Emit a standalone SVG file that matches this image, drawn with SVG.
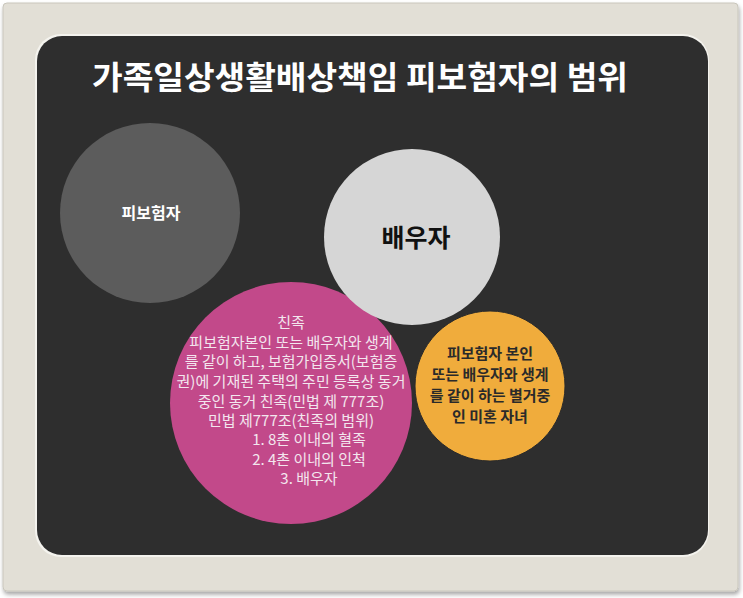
<svg xmlns="http://www.w3.org/2000/svg" width="743" height="598" viewBox="0 0 743 598">
<style>
.k{font-family:"Noto Sans CJK KR","Noto Sans",sans-serif;text-anchor:middle}
.pk{font-size:15px;fill:#f3e6ee}
.or{font-size:15px;font-weight:bold;fill:#2a2a2a}
</style>
<defs>
<filter id="sh" x="-5%" y="-5%" width="110%" height="110%"><feDropShadow dx="1" dy="3" stdDeviation="2" flood-color="#000" flood-opacity="0.35"/></filter>
</defs>
<rect width="743" height="598" fill="#ffffff"/>
<g id="frame">
<rect x="3" y="3" width="735" height="588" rx="4" fill="#e2dfd6" stroke="#c9c6bc" stroke-width="1" filter="url(#sh)"/>
<rect x="35" y="34" width="674" height="523" rx="26" fill="#f4f3ee"/>
<rect x="37" y="36" width="671" height="519" rx="25" fill="#2e2e2e"/>
</g>
<g id="title"><text class="k" x="360" y="89" font-size="32" font-weight="bold" fill="#ffffff" textLength="536" lengthAdjust="spacingAndGlyphs">가족일상생활배상책임 피보험자의 범위</text></g>
<g id="node-insured">
<circle cx="150" cy="213" r="90" fill="#5c5c5c"/>
<text class="k" x="151" y="219" font-size="16" font-weight="bold" fill="#ffffff">피보험자</text>
</g>
<g id="node-relatives">
<circle cx="291" cy="403" r="121" fill="#c2498a"/>
<text class="k pk" x="291" y="328">친족</text>
<text class="k pk" x="291" y="348">피보험자본인 또는 배우자와 생계</text>
<text class="k pk" x="291" y="367">를 같이 하고, 보험가입증서(보험증</text>
<text class="k pk" x="291" y="387">권)에 기재된 주택의 주민 등록상 동거</text>
<text class="k pk" x="291" y="407">중인 동거 친족(민법 제 777조)</text>
<text class="k pk" x="291" y="426">민법 제777조(친족의 범위)</text>
<text class="k pk" x="309" y="445">1. 8촌 이내의 혈족</text>
<text class="k pk" x="309" y="465">2. 4촌 이내의 인척</text>
<text class="k pk" x="309" y="484">3. 배우자</text>
</g>
<g id="node-spouse">
<circle cx="412" cy="237" r="88" fill="#d6d6d6"/>
<text class="k" x="416" y="247" font-size="25" font-weight="bold" fill="#111111">배우자</text>
</g>
<g id="node-child">
<circle cx="490" cy="386" r="75" fill="#f0ac3c" stroke="#2a2a2a" stroke-width="1"/>
<text class="k or" x="490" y="359">피보험자 본인</text>
<text class="k or" x="490" y="380">또는 배우자와 생계</text>
<text class="k or" x="490" y="401">를 같이 하는 별거중</text>
<text class="k or" x="490" y="422">인 미혼 자녀</text>
</g>
<g id="connectors"></g>
</svg>
